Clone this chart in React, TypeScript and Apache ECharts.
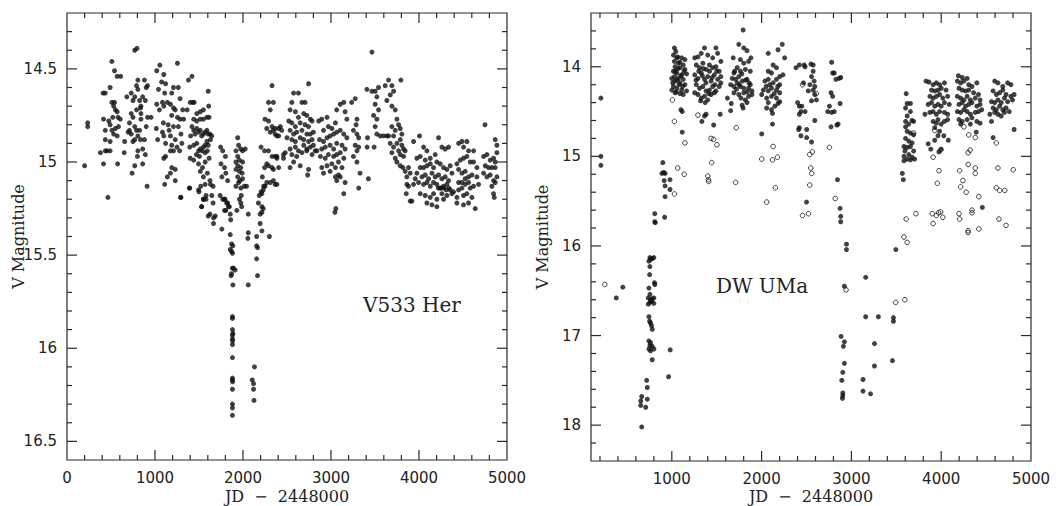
import React, { useEffect, useRef } from "react";
import * as echarts from "echarts";

// ---------- tick labels and tick positions ----------
const LEFT_X_LABELS = [0, 1000, 2000, 3000, 4000, 5000];
const LEFT_Y_LABELS = [14.5, 15, 15.5, 16, 16.5];
const RIGHT_X_LABELS = [1000, 2000, 3000, 4000, 5000];
const RIGHT_Y_LABELS = [14, 15, 16, 17, 18];
const LEFT_X_MAJOR = [1000, 2000, 3000, 4000];
const LEFT_X_MINOR = [200, 400, 600, 800, 1200, 1400, 1600, 1800, 2200, 2400, 2600, 2800, 3200, 3400, 3600, 3800, 4200, 4400, 4600, 4800];
const LEFT_Y_MAJOR = [14.5, 15, 15.5, 16, 16.5];
const LEFT_Y_MINOR = [14.3, 14.4, 14.6, 14.7, 14.8, 14.9, 15.1, 15.2, 15.3, 15.4, 15.6, 15.7, 15.8, 15.9, 16.1, 16.2, 16.3, 16.4];
const RIGHT_X_MAJOR = [1000, 2000, 3000, 4000];
const RIGHT_X_MINOR = [200, 400, 600, 800, 1200, 1400, 1600, 1800, 2200, 2400, 2600, 2800, 3200, 3400, 3600, 3800, 4200, 4400, 4600, 4800];
const RIGHT_Y_MAJOR = [14, 15, 16, 17, 18];
const RIGHT_Y_MINOR = [13.6, 13.8, 14.2, 14.4, 14.6, 14.8, 15.2, 15.4, 15.6, 15.8, 16.2, 16.4, 16.6, 16.8, 17.2, 17.4, 17.6, 17.8, 18.2];

// ---------- V533 Her (JD-2448000, V mag) ----------
const V533_EARLY = [
  [235,14.79],[235,14.81],[200,15.02],[465,15.19],[380,14.95],[435,14.94],[415,15.01],
  [410,14.63],[435,14.63],[490,14.60],[510,14.46],[540,14.51],[570,14.54],[610,14.54],[510,14.68],[530,14.70],[550,14.72],[570,14.73],[540,14.68],[520,14.76],[415,14.77],[435,14.83],[475,14.78],[490,14.80],[510,14.83],[550,14.82],[585,14.81],[570,14.86],[435,14.88],[490,14.89],[455,14.94],[490,14.94],[580,14.76],[605,14.77],[530,14.85],[575,15.01],
  [770,14.40],[795,14.39],[680,14.65],[730,14.63],[750,14.67],[770,14.65],[790,14.59],[805,14.56],[805,14.61],[825,14.67],[835,14.71],[840,14.74],[860,14.65],[880,14.56],[900,14.60],[890,14.67],[915,14.59],[790,14.72],[750,14.76],[710,14.79],[770,14.81],[730,14.85],[790,14.83],[805,14.86],[835,14.88],[770,14.88],[710,14.83],[750,14.89],[805,14.94],[800,14.97],[770,15.02],[740,15.06],[860,15.01],[890,14.96],[910,15.13],[860,14.93],[900,14.81],[915,14.76],[840,14.77],[655,14.89],[650,14.95],[695,14.84],[730,14.74],[840,14.70],[955,14.76],[880,14.88],[825,14.83],
  [1020,14.51],[1055,14.48],[1100,14.53],[1075,14.57],[1120,14.58],[1040,14.61],[1110,14.63],[1190,14.63],[1210,14.60],[1255,14.47],[1265,14.60],[1285,14.66],[1020,14.69],[1050,14.72],[1085,14.68],[1100,14.70],[1140,14.68],[1175,14.69],[1210,14.71],[1190,14.75],[1230,14.72],[1255,14.76],[1285,14.77],[1315,14.72],[1325,14.77],[1015,14.82],[1030,14.88],[1085,14.84],[1100,14.86],[1120,14.90],[1160,14.83],[1175,14.86],[1190,14.91],[1210,14.94],[1230,14.88],[1250,14.92],[1280,14.94],[1295,14.85],[1305,14.90],[1100,14.98],[1120,14.97],[1175,14.94],[1190,15.03],[1230,15.04],[1140,15.08],[1175,15.06],[1110,15.12],[1230,15.10],[1295,15.19],[1095,14.79],[1150,14.80],[1210,14.81],[1265,14.81],
  [1380,14.56],[1420,14.54],[1400,14.68],[1430,14.68],[1445,14.68],[1365,14.72],[1475,14.74],[1515,14.73],[1550,14.72],[1605,14.62],[1610,14.70],[1440,14.77],[1475,14.78],[1515,14.77],[1550,14.77],[1590,14.76],[1615,14.76],[1420,14.81],[1440,14.83],[1455,14.85],[1475,14.82],[1495,14.84],[1515,14.83],[1530,14.86],[1550,14.85],[1570,14.84],[1590,14.83],[1605,14.85],[1625,14.85],[1645,14.86],[1405,14.86],[1395,14.92],[1440,14.91],[1475,14.90],[1495,14.94],[1515,14.93],[1550,14.92],[1570,14.91],[1590,14.89],[1605,14.91],[1630,14.88],[1470,14.96],[1505,14.97],[1535,14.94],[1570,14.95],[1595,14.94],[1400,14.98],[1440,14.99],[1495,15.01],[1540,15.03],[1570,15.00],[1615,14.98],[1515,15.05],[1550,15.08],[1595,15.06],[1625,15.10],[1520,15.13],[1570,15.12],[1630,15.12],[1395,15.14],[1495,15.15],[1550,15.20],[1580,15.18],[1530,15.24],[1660,15.13],
];
const V533_DIP = [
  [1745,14.92],[1770,14.94],[1800,14.97],[1750,15.01],[1790,15.03],[1760,15.08],[1805,15.06],[1825,15.10],[1740,15.18],[1770,15.20],[1790,15.20],[1825,15.22],[1845,15.24],[1805,15.26],[1660,15.22],
  [1940,14.87],[1950,14.91],[1920,14.94],[1975,14.93],[1995,14.94],[2025,14.93],[1940,14.97],[1960,14.99],[1940,15.02],[1975,15.03],[1920,15.04],[1960,15.05],[1990,15.06],[1940,15.08],[1965,15.10],[1950,15.11],[1995,15.09],[2015,15.13],[1920,15.13],[1975,15.14],[2040,15.13],[1920,15.00],[1995,15.00],[1960,15.20],[1975,15.22],
  [1290,15.19],[1390,15.14],[1500,15.16],[1530,15.24],[1550,15.20],[1580,15.20],[1605,15.29],[1625,15.28],[1665,15.30],[1685,15.29],[1665,15.33],[1645,15.18],[1760,15.36],[1795,15.20],[1815,15.22],[1835,15.24],[1855,15.28],[1860,15.31],[1790,15.26],[1855,15.39],[1870,15.44],[1885,15.45],[1855,15.47],[1870,15.48],[1880,15.57],[1910,15.58],[1870,15.60],[1885,15.66],[2060,15.38],[2055,15.41],[2060,15.66],[2155,15.40],[2155,15.45],[2165,15.46],[2155,15.52],[2165,15.61],[2195,15.33],[2215,15.37],[2300,15.40],[2215,15.27],[2195,15.28],[2230,15.25],[2215,15.17],[2230,15.15],[2250,15.13],[1985,15.24],[1930,15.26],[2060,15.28],[1980,15.18],
  [1880,15.49],[1890,15.57],[1865,15.61],[1880,15.83],[1880,15.84],[1880,15.90],[1885,15.92],[1880,15.93],[1880,15.95],[1882,15.96],[1880,15.98],[1880,16.05],[1880,16.16],[1880,16.17],[1882,16.18],[1880,16.22],[1880,16.30],[1880,16.32],[1880,16.36],[2130,16.10],[2105,16.17],[2120,16.19],[2120,16.22],[2125,16.28],
  [2185,15.18],[2205,15.16],[2235,15.13],[2270,15.11],[2310,15.11],[2345,15.10],[2365,15.12],[2220,15.08],[2245,15.03],[2270,15.01],[2290,15.02],[2330,15.03],[2345,15.04],[2205,14.92],[2245,14.94],[2290,14.94],[2330,14.97],[2365,14.97],[2385,14.98],[2250,14.77],[2290,14.78],[2330,14.81],[2345,14.83],[2365,14.85],[2310,14.84],[2270,14.82],[2385,14.86],[2365,14.82],[2405,14.82],[2460,14.96],[2330,14.59],[2290,14.68],[2345,14.68],[2310,14.72],[2175,15.22],[2215,15.24],
];
const V533_LATE = [
  [2385,14.97],[2405,15.03],[2425,14.81],[2385,15.12],[2440,14.83],[2405,14.86],
  [2575,14.63],[2630,14.63],[2555,14.68],[2670,14.68],[2705,14.68],[2745,14.58],[2535,14.72],[2595,14.73],[2630,14.76],[2690,14.74],[2725,14.75],[2765,14.77],[2520,14.78],[2555,14.79],[2595,14.81],[2650,14.79],[2705,14.80],[2745,14.81],[2785,14.78],[2535,14.83],[2575,14.85],[2610,14.84],[2670,14.83],[2725,14.85],[2765,14.85],[2800,14.84],[2500,14.87],[2555,14.88],[2595,14.89],[2650,14.87],[2690,14.88],[2745,14.89],[2785,14.88],[2535,14.93],[2595,14.92],[2630,14.94],[2690,14.91],[2725,14.93],[2765,14.92],[2800,14.91],[2480,14.95],[2555,14.96],[2610,14.97],[2670,14.95],[2725,14.94],[2785,14.96],[2820,14.94],[2575,15.00],[2650,15.02],[2745,15.04],[2735,15.07],[2535,15.03],[2460,14.98],
  [2860,14.78],[2895,14.77],[2955,14.76],[2915,14.83],[2970,14.81],[3010,14.82],[3050,14.79],[3065,14.72],[3105,14.69],[3145,14.68],[3160,14.73],[3180,14.77],[3235,14.68],[3275,14.66],[3295,14.77],[3285,14.80],[2870,14.88],[2915,14.89],[2955,14.87],[2990,14.86],[3030,14.85],[3065,14.84],[3105,14.83],[3145,14.85],[3180,14.87],[3255,14.83],[3295,14.85],[3315,14.87],[2840,14.94],[2895,14.93],[2935,14.92],[2990,14.91],[3030,14.93],[3065,14.90],[3125,14.91],[3160,14.93],[3275,14.91],[3315,14.92],[2880,14.97],[2935,14.98],[2970,14.96],[3030,14.97],[3065,14.96],[3105,14.95],[3145,14.98],[3255,14.97],[3295,14.94],[2895,15.03],[2955,15.02],[3010,15.01],[3050,15.03],[3085,15.00],[3125,15.03],[3295,15.00],[2915,15.06],[2990,15.05],[3050,15.08],[3085,15.07],[3160,15.11],[3330,15.06],[3315,15.14],[3145,15.17],[3045,15.27],[3055,15.25],[3410,14.92],[3415,14.87],[3425,15.09],[3065,15.10],[3105,15.08],
  [3465,14.41],[3408,14.61],[3465,14.62],[3502,14.62],[3540,14.60],[3654,14.56],[3794,14.56],[3616,14.59],[3692,14.59],[3711,14.62],[3673,14.64],[3635,14.67],[3692,14.70],[3730,14.72],[3521,14.65],[3502,14.69],[3540,14.72],[3484,14.75],[3521,14.77],[3502,14.81],[3521,14.85],[3597,14.86],[3654,14.86],[3692,14.81],[3730,14.83],[3749,14.77],[3768,14.80],[3787,14.82],[3805,14.85],[3787,14.88],[3749,14.90],[3805,14.91],[3824,14.93],[3768,14.94],[3787,14.96],[3824,14.97],[3843,14.94],[3673,14.90],[3711,14.92],[3692,14.95],[3730,14.98],[3749,15.00],[3787,15.02],[3817,15.03],[3843,15.05],[3862,15.08],[3881,15.03],[3900,15.06],[3490,14.92],[3711,14.86],[3635,14.86],[3559,14.86],
  [3862,15.12],[3855,15.17],[3881,15.13],[3919,15.21],[3938,15.12],[3957,15.09],
  [3938,14.89],[4006,14.86],[4052,14.92],[4090,14.94],[3976,14.98],[4014,14.97],[4071,14.99],[4128,14.98],[4184,14.96],[4222,14.87],[4260,14.92],[4298,14.93],[4336,14.92],[4450,14.90],[4488,14.89],[4544,14.89],[4506,14.92],[4563,14.94],[4620,14.94],
  [4014,15.03],[4052,15.03],[4090,15.02],[4128,15.01],[4165,15.03],[4203,15.00],[4241,15.01],[4279,15.03],[4317,15.04],[4355,15.02],[4431,15.01],[4469,14.99],[4506,14.98],[4544,14.97],[4582,15.00],[4620,15.00],[4658,15.03],
  [3976,15.06],[4033,15.08],[4071,15.07],[4109,15.09],[4147,15.06],[4184,15.08],[4222,15.07],[4260,15.09],[4298,15.08],[4336,15.10],[4374,15.06],[4450,15.04],[4488,15.06],[4525,15.05],[4563,15.08],[4601,15.07],[4658,15.08],
  [3995,15.11],[4052,15.12],[4090,15.11],[4128,15.13],[4165,15.11],[4203,15.12],[4241,15.14],[4279,15.13],[4317,15.12],[4355,15.15],[4450,15.11],[4488,15.11],[4525,15.12],[4563,15.11],[4620,15.13],[4677,15.12],
  [4014,15.17],[4071,15.18],[4128,15.19],[4165,15.17],[4203,15.20],[4260,15.17],[4317,15.18],[4374,15.17],[4431,15.19],[4506,15.18],[4544,15.17],[4601,15.19],
  [4090,15.22],[4147,15.23],[4203,15.24],[4279,15.20],[4431,15.22],[4506,15.23],[4563,15.22],[4639,15.25],[3900,15.21],[4393,15.16],[4450,15.15],[4488,15.14],[4525,15.09],[4582,15.14],
  [4220,15.14],[4250,15.14],[4280,15.14],[4310,15.15],[4340,15.14],
  [4750,14.80],[4866,14.88],[4885,14.91],[4734,14.97],[4772,14.96],[4809,14.99],[4847,14.98],[4866,15.00],[4885,14.95],[4753,15.02],[4790,15.03],[4828,15.03],[4866,15.03],[4734,15.06],[4772,15.08],[4809,15.07],[4847,15.10],[4866,15.11],[4885,15.08],[4828,15.13],[4847,15.17],[4855,15.19],
];

// ---------- DW UMa (JD-2448000, V mag) ----------
const DW_FILLED_A = [
  [210,14.35],[210,15.00],[210,15.10],[381,16.58],[454,16.46],
  [900,15.07],[890,15.19],[910,15.18],[925,15.19],[915,15.27],[925,15.33],[980,15.26],[980,15.37],[925,15.45],[810,15.64],[810,15.73],[815,15.74],[920,15.68],
  [1029,13.79],[1044,13.83],[1018,13.87],[1066,13.89],[1109,13.90],[1146,13.92],[1029,13.94],[1073,13.96],[1127,13.98],[1036,14.00],[1091,14.01],[1146,14.03],[1018,14.05],[1055,14.07],[1109,14.09],[1164,14.08],[1029,14.11],[1073,14.13],[1127,14.14],[1036,14.16],[1091,14.18],[1146,14.20],[1018,14.22],[1055,14.24],[1109,14.26],[1164,14.27],[1036,14.29],[1091,14.30],[1000,14.26],[1127,14.31],[1055,13.90],[1000,14.13],[1102,14.48],[1116,14.50],[1116,14.73],
  [1040,14.05],[1060,14.15],[1080,14.20],[1100,14.10],[1120,14.22],[1050,14.28],[1070,14.02],[1090,13.95],[1010,14.18],[1135,14.05],
  [1255,13.90],[1291,13.89],[1328,13.85],[1364,13.79],[1400,13.87],[1455,13.90],[1491,13.79],[1510,13.85],[1546,13.94],[1273,13.98],[1309,14.01],[1346,13.96],[1382,14.03],[1419,13.98],[1455,14.01],[1491,14.00],[1528,14.05],[1546,14.11],[1255,14.09],[1291,14.13],[1328,14.07],[1364,14.14],[1400,14.11],[1437,14.16],[1473,14.09],[1510,14.14],[1546,14.18],[1273,14.20],[1309,14.24],[1346,14.22],[1382,14.27],[1419,14.26],[1455,14.22],[1491,14.27],[1528,14.22],[1255,14.29],[1291,14.31],[1328,14.35],[1364,14.33],[1400,14.37],[1437,14.31],[1473,14.29],[1320,14.38],[1371,14.40],[1382,14.53],[1364,14.55],[1335,14.61],[1466,14.65],[1539,14.53],
  [1300,14.05],[1340,14.10],[1380,14.18],[1420,14.05],[1450,14.12],[1480,14.20],[1350,14.02],[1410,14.30],[1500,14.05],[1270,14.15],
  [1794,13.59],[1746,13.75],[1801,13.79],[1837,13.82],[1881,13.90],[1684,13.90],[1764,13.92],[1801,13.96],[1855,13.94],[1692,14.07],[1728,14.01],[1764,14.05],[1819,14.03],[1874,14.05],[1673,14.13],[1710,14.14],[1746,14.11],[1783,14.16],[1837,14.14],[1874,14.20],[1655,14.20],[1692,14.22],[1728,14.18],[1764,14.22],[1801,14.24],[1855,14.24],[1892,14.27],[1692,14.29],[1746,14.31],[1801,14.29],[1855,14.33],[1892,14.31],[1619,14.35],[1662,14.41],[1655,14.49],[1783,14.43],[1794,14.46],[1837,14.40],[1819,14.37],
  [1700,14.05],[1750,14.20],[1780,14.08],[1820,14.15],[1860,14.18],[1720,14.25],[1770,14.35],[1840,14.28],
  [2074,13.85],[2183,13.81],[2230,13.75],[2256,13.90],[2128,13.98],[2165,14.01],[2074,14.05],[2110,14.07],[2201,14.11],[2238,14.09],[2037,14.16],[2074,14.14],[2128,14.18],[2165,14.14],[2201,14.20],[2019,14.26],[2074,14.27],[2110,14.24],[2165,14.26],[2201,14.29],[2001,14.31],[2056,14.35],[2110,14.33],[2165,14.35],[2201,14.39],[2056,14.46],[2110,14.48],[2147,14.44],[2183,14.41],[2121,14.52],[2074,14.40],[2001,14.75],[2121,14.64],
  [2090,14.20],[2140,14.30],[2180,14.22],[2050,14.22],
  [2383,14.01],[2420,13.98],[2474,13.98],[2401,14.40],[2420,14.44],[2438,14.50],[2420,14.53],[2420,14.68],[2412,14.70],[2438,14.77],[2500,15.51],
  [2484,14.00],[2549,13.97],[2574,13.98],[2574,14.05],[2556,14.11],[2585,14.16],[2538,14.20],[2592,14.22],[2574,14.26],[2592,14.31],[2610,14.37],[2556,14.38],[2520,14.27],[2466,14.18],[2484,14.50],[2448,14.44],[2502,14.70],[2502,14.79],[2556,14.84],[2592,14.60],
  [2780,13.95],[2791,14.07],[2809,14.07],[2827,14.14],[2863,14.13],[2881,14.12],[2773,14.29],[2791,14.33],[2755,14.44],[2736,14.50],[2780,14.51],[2809,14.50],[2874,14.41],[2852,14.64],[2838,14.65],[2773,14.67],[2845,15.26],[2874,15.58],[2881,15.67],[2881,15.73],[2945,15.98],[2945,16.04],[3495,16.04],
];
const DW_FILLED_B = [
  [3610,14.30],[3621,14.41],[3657,14.41],[3603,14.46],[3657,14.50],[3621,14.55],[3603,14.61],[3639,14.64],[3675,14.60],[3693,14.61],[3603,14.67],[3621,14.72],[3657,14.74],[3693,14.76],[3603,14.80],[3639,14.83],[3675,14.85],[3585,14.89],[3621,14.90],[3657,14.89],[3693,14.94],[3596,14.94],[3639,14.98],[3675,15.01],[3704,15.03],[3585,15.00],[3585,15.05],[3621,15.03],[3657,15.04],[3567,15.19],[3578,15.26],
  [3830,14.16],[3863,14.17],[3910,14.20],[3946,14.18],[3982,14.20],[4036,14.18],[3892,14.26],[3928,14.27],[3964,14.26],[4000,14.24],[4054,14.26],[3874,14.33],[3910,14.35],[3946,14.33],[3982,14.31],[4018,14.35],[4072,14.33],[3855,14.42],[3892,14.40],[3928,14.44],[3964,14.42],[4000,14.44],[4036,14.40],[4090,14.42],[3819,14.53],[3874,14.51],[3910,14.50],[3946,14.53],[3982,14.50],[4036,14.51],[4072,14.53],[3910,14.61],[3946,14.63],[3964,14.59],[4000,14.64],[4036,14.61],[4072,14.59],[3928,14.68],[3982,14.72],[3964,14.77],[4029,14.77],[4079,14.82],[3928,14.82],[3855,14.86],[3884,14.92],[3975,14.95],[4000,14.92],
  [4191,14.10],[4234,14.12],[4289,14.13],[4180,14.16],[4216,14.18],[4253,14.16],[4307,14.20],[4343,14.22],[4397,14.18],[4198,14.24],[4234,14.26],[4271,14.27],[4307,14.26],[4361,14.29],[4415,14.31],[4180,14.33],[4216,14.35],[4253,14.37],[4289,14.33],[4325,14.37],[4379,14.35],[4433,14.37],[4198,14.42],[4234,14.40],[4271,14.44],[4307,14.42],[4343,14.40],[4397,14.44],[4433,14.42],[4180,14.50],[4216,14.51],[4253,14.48],[4289,14.50],[4325,14.53],[4379,14.51],[4415,14.50],[4451,14.48],[4198,14.59],[4234,14.61],[4289,14.59],[4343,14.57],[4397,14.61],[4433,14.63],[4216,14.64],[4325,14.64],[4390,14.73],[4458,15.57],
  [4596,14.16],[4632,14.18],[4686,14.22],[4740,14.18],[4776,14.20],[4578,14.27],[4614,14.31],[4650,14.29],[4686,14.26],[4722,14.31],[4776,14.33],[4812,14.31],[4560,14.39],[4596,14.40],[4632,14.37],[4668,14.40],[4704,14.35],[4740,14.39],[4794,14.37],[4578,14.46],[4614,14.48],[4650,14.44],[4686,14.48],[4722,14.46],[4758,14.50],[4542,14.53],[4596,14.51],[4632,14.53],[4668,14.55],[4704,14.51],[4560,14.61],[4812,14.70],[4578,14.79],
  [756,16.13],[782,16.14],[800,16.13],[763,16.15],[745,16.17],[756,16.23],[753,16.32],[745,16.47],[756,16.54],[738,16.58],[763,16.60],[782,16.59],[800,16.58],[756,16.63],[738,16.65],[800,16.64],[774,16.62],[745,16.79],[753,16.84],[763,16.86],[774,16.89],[782,16.93],[745,17.06],[763,17.08],[756,17.11],[782,17.12],[800,17.15],[745,17.15],[763,17.17],[782,17.27],[807,16.41],[811,16.43],
  [982,17.16],[964,17.46],[720,17.50],[727,17.58],[665,17.68],[654,17.73],[727,17.71],[654,17.78],[709,17.80],[665,18.02],
  [2922,16.45],[2885,17.01],[2922,17.07],[2911,17.12],[2922,17.31],[2904,17.41],[2893,17.50],[2904,17.64],[2904,17.67],[2900,17.70],
  [3159,16.35],[3159,16.79],[3300,16.79],[3257,17.09],[3257,17.34],[3129,17.49],[3129,17.62],[3213,17.65],[3468,16.80],[3468,16.84],[3457,17.28],
];
const DW_OPEN = [
  [254,16.43],
  [1007,14.37],[1029,14.61],[1146,14.85],[1066,15.13],[1138,15.20],[1029,15.42],[1291,14.54],[1437,14.80],[1466,14.81],[1502,14.87],[1444,15.07],[1400,15.22],[1407,15.26],[1411,15.28],[1717,14.68],[1710,15.29],[2001,15.03],[2121,15.04],[2176,15.01],[2128,14.89],[2154,15.35],[2056,15.51],
  [2456,14.20],[2536,14.98],[2565,14.95],[2547,15.13],[2558,15.19],[2536,15.32],[2456,15.66],[2522,15.64],[2610,14.30],[2755,14.90],[2820,15.47],[2940,16.49],
  [3693,14.74],[3610,15.70],[3718,15.64],[3585,15.90],[3621,15.96],[3493,16.63],[3595,16.60],
  [3928,14.71],[3993,14.93],[3910,15.01],[3975,15.16],[3957,15.30],[3900,15.64],[3946,15.66],[3971,15.63],[3993,15.62],[4018,15.68],[3910,15.75],
  [4253,14.67],[4307,14.76],[4379,14.79],[4300,14.96],[4322,14.93],[4300,15.09],[4379,15.13],[4379,15.19],[4205,15.16],[4242,15.27],[4216,15.34],[4278,15.40],[4419,15.45],[4198,15.64],[4205,15.70],[4343,15.60],[4343,15.63],[4300,15.83],[4300,15.85],[4419,15.81],
  [4614,14.85],[4632,15.13],[4802,15.15],[4614,15.35],[4650,15.38],[4708,15.38],[4643,15.70],[4722,15.77],
];

const LEFT_LABEL = "V533 Her";
const RIGHT_LABEL = "DW UMa";
const X_NAME = "JD\u00a0\u00a0\u2212\u00a0\u00a02448000";
const Y_NAME = "V Magnitude";

const INK = "#111111";
const AXIS_COLOR = "#2a2a2a";
const TICK_FONT = { fontFamily: "DejaVu Sans", fontSize: 15, color: "#222" };
const NAME_FONT = { fontFamily: "DejaVu Serif", fontSize: 16, color: "#222", lineHeight: 17 };
const fmt = (v: number) => String(v);
const MAJOR_LEN = 10;
const MINOR_LEN = 5;

// tick table: [kind (0 = x, 1 = y), value, length]
function tickTable(xMajor: number[], xMinor: number[], yMajor: number[], yMinor: number[]) {
  return [
    ...xMajor.map((v) => [0, v, MAJOR_LEN]),
    ...xMinor.map((v) => [0, v, MINOR_LEN]),
    ...yMajor.map((v) => [1, v, MAJOR_LEN]),
    ...yMinor.map((v) => [1, v, MINOR_LEN]),
  ];
}

function tickSeries(index: number, data: number[][], xRef: number, yRef: number) {
  return {
    type: "custom",
    name: "ticks" + index,
    xAxisIndex: index,
    yAxisIndex: index,
    data,
    silent: true,
    z: 5,
    clip: false,
    renderItem: (params: any, api: any) => {
      const cs = params.coordSys;
      const kind = api.value(0);
      const v = api.value(1);
      const len = api.value(2);
      const style = { stroke: AXIS_COLOR, lineWidth: 1.2, fill: null };
      if (kind === 0) {
        const x = api.coord([v, yRef])[0];
        return {
          type: "group",
          children: [
            { type: "line", shape: { x1: x, y1: cs.y + cs.height, x2: x, y2: cs.y + cs.height - len }, style },
            { type: "line", shape: { x1: x, y1: cs.y, x2: x, y2: cs.y + len }, style },
          ],
        };
      }
      const y = api.coord([xRef, v])[1];
      return {
        type: "group",
        children: [
          { type: "line", shape: { x1: cs.x, y1: y, x2: cs.x + len, y2: y }, style },
          { type: "line", shape: { x1: cs.x + cs.width, y1: y, x2: cs.x + cs.width - len, y2: y }, style },
        ],
      };
    },
  };
}

function xAxis(gridIndex: number, min: number, max: number, labels: number[], nameGap: number) {
  return {
    type: "value", gridIndex, min, max, position: "bottom",
    axisLine: { show: false, onZero: false },
    axisTick: { show: false },
    splitLine: { show: false },
    axisLabel: { show: true, customValues: labels, margin: 10, formatter: fmt, ...TICK_FONT },
    name: X_NAME, nameLocation: "middle", nameGap, nameMoveOverlap: false, nameTextStyle: NAME_FONT,
  };
}

function yAxis(gridIndex: number, min: number, max: number, labels: number[]) {
  return {
    type: "value", gridIndex, min, max, inverse: true, position: "left",
    axisLine: { show: false, onZero: false },
    axisTick: { show: false },
    splitLine: { show: false },
    axisLabel: { show: true, customValues: labels, margin: 10, formatter: fmt, ...TICK_FONT },
    name: Y_NAME, nameLocation: "middle", nameGap: 40, nameRotate: 90, nameMoveOverlap: false, nameTextStyle: NAME_FONT,
  };
}

export default function App() {
  const ref = useRef<HTMLDivElement | null>(null);

  useEffect(() => {
    if (!ref.current) return;
    const chart = echarts.init(ref.current, null, { renderer: "svg" });
    const filled = { color: INK };
    const dot = { type: "scatter", symbol: "circle", symbolSize: 5, itemStyle: filled, silent: true };
    const gridBox = { show: true, borderColor: AXIS_COLOR, borderWidth: 1.2, backgroundColor: "rgba(0,0,0,0)", containLabel: false, outerBoundsMode: "none" };
    const option: any = {
      animation: false,
      backgroundColor: "#ffffff",
      grid: [
        { ...gridBox, left: 67, right: 554, top: 13, bottom: 46 },
        { ...gridBox, left: 591, right: 30, top: 13, bottom: 45 },
      ],
      xAxis: [xAxis(0, 0, 5000, LEFT_X_LABELS, 28), xAxis(1, 100, 5000, RIGHT_X_LABELS, 27)],
      yAxis: [yAxis(0, 14.2, 16.6, LEFT_Y_LABELS), yAxis(1, 13.4, 18.4, RIGHT_Y_LABELS)],
      series: [
        tickSeries(0, tickTable(LEFT_X_MAJOR, LEFT_X_MINOR, LEFT_Y_MAJOR, LEFT_Y_MINOR), 2500, 15),
        tickSeries(1, tickTable(RIGHT_X_MAJOR, RIGHT_X_MINOR, RIGHT_Y_MAJOR, RIGHT_Y_MINOR), 2500, 15),
        { ...dot, name: "V533 early", xAxisIndex: 0, yAxisIndex: 0, data: V533_EARLY },
        { ...dot, name: "V533 dip", xAxisIndex: 0, yAxisIndex: 0, data: V533_DIP },
        { ...dot, name: "V533 late", xAxisIndex: 0, yAxisIndex: 0, data: V533_LATE },
        { ...dot, name: "DW filled A", xAxisIndex: 1, yAxisIndex: 1, data: DW_FILLED_A },
        { ...dot, name: "DW filled B", xAxisIndex: 1, yAxisIndex: 1, data: DW_FILLED_B },
        {
          type: "scatter", name: "DW open", xAxisIndex: 1, yAxisIndex: 1, data: DW_OPEN, symbol: "circle", symbolSize: 4.6,
          itemStyle: { color: "rgba(255,255,255,0)", borderColor: INK, borderWidth: 1 }, silent: true,
        },
      ],
      graphic: [
        {
          type: "text", x: 412, y: 305,
          style: { text: LEFT_LABEL, fontFamily: "DejaVu Serif", fontSize: 20, fill: "#222", align: "center", verticalAlign: "middle", textAlign: "center", textVerticalAlign: "middle" },
        },
        {
          type: "text", x: 762, y: 286,
          style: { text: RIGHT_LABEL, fontFamily: "DejaVu Serif", fontSize: 20, fill: "#222", align: "center", verticalAlign: "middle", textAlign: "center", textVerticalAlign: "middle" },
        },
      ],
    };
    chart.setOption(option);
    return () => chart.dispose();
  }, []);

  return (
    <div
      ref={ref}
      style={{ position: "absolute", left: 0, top: 0, width: 1061, height: 506, background: "#fff" }}
    />
  );
}
